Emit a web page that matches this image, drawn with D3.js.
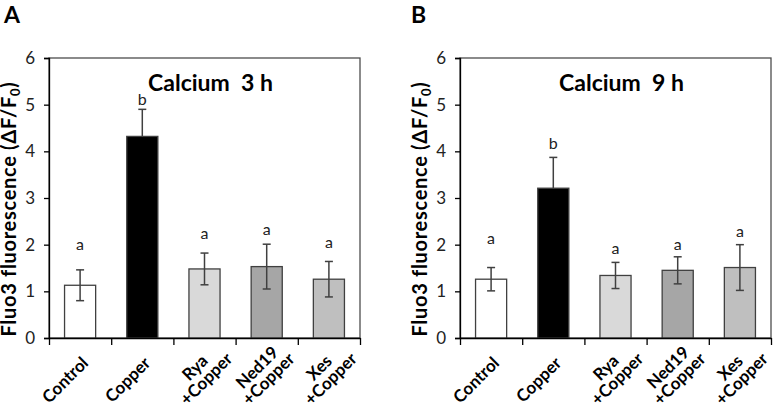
<!DOCTYPE html>
<html>
<head>
<meta charset="utf-8">
<script src="https://cdn.jsdelivr.net/npm/d3@7"></script>
<style>
  body { margin: 0; background: #fff; }
  svg { display: block; font-family: Lato, "Open Sans", sans-serif; }
</style>
</head>
<body>
<svg id="chart" width="773" height="405"></svg>
<script>
// chart values
const categories = [["Control"], ["Copper"], ["Rya", "+Copper"], ["Ned19", "+Copper"], ["Xes", "+Copper"]];
const barFills = ["#ffffff", "#000000", "#d9d9d9", "#a6a6a6", "#bfbfbf"];
const yTicks = [0, 1, 2, 3, 4, 5, 6];

const means3h = [1.13, 4.32, 1.48, 1.53, 1.26];
const errors3h = [0.33, 0.58, 0.34, 0.48, 0.38];
const letters3h = ["a", "b", "a", "a", "a"];
const letterY3h = [2.0, 5.12, 2.24, 2.33, 2.05];

const means9h = [1.26, 3.21, 1.34, 1.45, 1.51];
const errors9h = [0.25, 0.66, 0.28, 0.29, 0.49];
const letters9h = ["a", "b", "a", "a", "a"];
const letterY9h = [2.14, 4.18, 1.91, 2.0, 2.28];

const svg = d3.select('#chart');

function drawPanel(opts) {
    const left = opts.left, right = opts.left + 311;
    const top = 58, bottom = 338;

    const g = svg.append('g');

    const x = d3.scaleBand()
        .domain(d3.range(categories.length))
        .range([left, right])
        .paddingInner(0.5)
        .paddingOuter(0.25);
    const xb = d3.scaleLinear().domain([0, categories.length]).range([left, right]);
    const y = d3.scaleLinear().domain([0, 6]).range([bottom, top]);

    const rows = opts.means.map((m, i) => ({
        i: i,
        mean: m,
        err: opts.errors[i],
        cx: x(i) + x.bandwidth() / 2
    }));

    // frame (top and right)
    g.append('rect')
        .attr('x', left).attr('y', top)
        .attr('width', right - left).attr('height', bottom - top)
        .attr('fill', 'none')
        .attr('stroke', '#4d4d4d')
        .attr('stroke-width', 1.3);

    // bars
    g.selectAll('rect.bar')
        .data(rows)
        .enter()
        .append('rect')
        .attr('class', 'bar')
        .attr('x', d => x(d.i))
        .attr('y', d => y(d.mean))
        .attr('width', x.bandwidth())
        .attr('height', d => bottom - y(d.mean))
        .attr('fill', d => barFills[d.i])
        .attr('stroke', '#404040')
        .attr('stroke-width', 1.3);

    // error bars (copper bar only shows the upper half)
    const cap = 4;
    const eb = g.selectAll('g.err')
        .data(rows)
        .enter()
        .append('g')
        .attr('class', 'err')
        .attr('stroke', '#404040')
        .attr('stroke-width', 1.5);
    eb.append('line')
        .attr('x1', d => d.cx)
        .attr('x2', d => d.cx)
        .attr('y1', d => y(d.i === 1 ? d.mean : d.mean - d.err))
        .attr('y2', d => y(d.mean + d.err));
    eb.append('line')
        .attr('x1', d => d.cx - cap)
        .attr('x2', d => d.cx + cap)
        .attr('y1', d => y(d.mean + d.err))
        .attr('y2', d => y(d.mean + d.err));
    eb.filter(d => d.i !== 1).append('line')
        .attr('x1', d => d.cx - cap)
        .attr('x2', d => d.cx + cap)
        .attr('y1', d => y(d.mean - d.err))
        .attr('y2', d => y(d.mean - d.err));

    // significance letters
    g.selectAll('text.sig')
        .data(rows)
        .enter()
        .append('text')
        .attr('class', 'sig')
        .attr('x', d => d.cx)
        .attr('y', d => y(opts.letterY[d.i]))
        .attr('dy', '0.35em')
        .attr('text-anchor', 'middle')
        .style('font-size', '16px')
        .style('fill', '#222')
        .text(d => opts.letters[d.i]);

    // y axis
    const yAxis = g.append('g')
        .attr('transform', `translate(${left},0)`)
        .call(d3.axisLeft(y).tickValues(yTicks).tickFormat(d3.format('d')).tickSize(5).tickPadding(9));
    yAxis.select('.domain').attr('stroke', '#000').attr('stroke-width', 1.3);
    yAxis.selectAll('.tick line').attr('stroke', '#000').attr('stroke-width', 1.3);
    yAxis.selectAll('.tick text')
        .style('font-size', '17px')
        .style('font-family', 'Lato, sans-serif')
        .attr('fill', '#222');

    // x axis: ticks on category boundaries
    const xAxis = g.append('g')
        .attr('transform', `translate(0,${bottom})`)
        .call(d3.axisBottom(xb).tickValues(d3.range(categories.length + 1)).tickSize(7).tickSizeOuter(0).tickFormat(''));
    xAxis.select('.domain').attr('stroke', '#000').attr('stroke-width', 1.3);
    xAxis.selectAll('.tick line').attr('stroke', '#000').attr('stroke-width', 1.3);

    // rotated category labels
    categories.forEach((lines, i) => {
        const cx = x(i) + x.bandwidth() / 2;
        const lg = g.append('g')
            .attr('transform', `translate(${cx},${bottom}) rotate(-45)`);
        const texts = lines.map(s => lg.append('text')
            .style('font-size', '17px')
            .style('font-weight', 'bold')
            .attr('fill', '#000')
            .text(s));
        if (lines.length === 1) {
            texts[0].attr('text-anchor', 'end').attr('x', -12).attr('y', 25);
        } else {
            const w = d3.max(texts, t => t.node().getComputedTextLength());
            texts.forEach((t, k) => {
                t.attr('text-anchor', 'middle')
                    .attr('x', 5 - w / 2)
                    .attr('y', 20 + k * 16);
            });
        }
    });

    // y axis title
    const yt = g.append('text')
        .attr('transform', `translate(${left - 33},${(top + bottom) / 2 + 11}) rotate(-90)`)
        .attr('text-anchor', 'middle')
        .style('font-size', '20px')
        .style('font-weight', 'bold')
        .style('letter-spacing', '0.7px');
    yt.append('tspan').text('Fluo3 fluorescence (ΔF/F');
    yt.append('tspan').attr('dy', 4).style('font-size', '13px').text('0');
    yt.append('tspan').attr('dy', -4).text(')');

    // chart title
    g.append('text')
        .attr('x', (left + right) / 2 + 6)
        .attr('y', 91)
        .attr('text-anchor', 'middle')
        .style('font-size', '23px')
        .style('font-weight', 'bold')
        .attr('xml:space', 'preserve')
        .text(opts.title);

    // panel letter
    g.append('text')
        .attr('x', opts.letterX)
        .attr('y', 23)
        .style('font-size', '23px')
        .style('font-weight', 'bold')
        .text(opts.panel);
}

drawPanel({ left: 49, means: means3h, errors: errors3h, letters: letters3h, letterY: letterY3h,
    title: 'Calcium  3 h', panel: 'A', letterX: 4 });
drawPanel({ left: 460, means: means9h, errors: errors9h, letters: letters9h, letterY: letterY9h,
    title: 'Calcium  9 h', panel: 'B', letterX: 411 });
</script>
</body>
</html>
